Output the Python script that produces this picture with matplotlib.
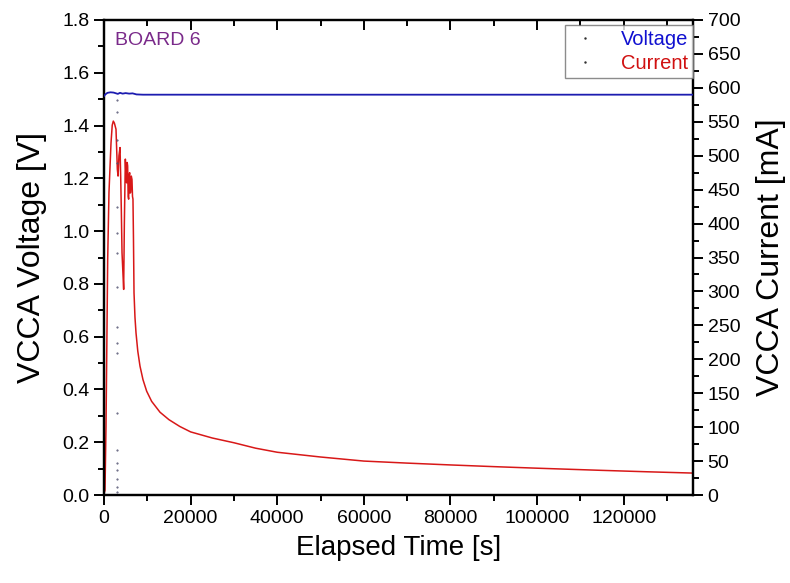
import matplotlib
matplotlib.use('Agg')
from matplotlib import pyplot as plt
from matplotlib.lines import Line2D
from matplotlib.ticker import MultipleLocator, FormatStrFormatter

plt.rcParams['font.family'] = ['Liberation Sans', 'DejaVu Sans']

# voltage trace (s, V)
volt_t = [0, 300, 800, 1500, 2200, 2800, 3200, 3700, 4300, 5000, 5800, 6600, 7500, 9000, 20000, 60000, 100000, 136000]
volt_v = [1.512, 1.518, 1.524, 1.526, 1.525, 1.522, 1.520, 1.524, 1.521, 1.523, 1.521, 1.522, 1.518, 1.517, 1.517, 1.517, 1.517, 1.517]

# stray voltage readings at ~3070 s
drop_t = 3070
drop_v = [1.497, 1.453, 1.345, 1.258, 1.093, 0.993, 0.917, 0.79, 0.638, 0.576, 0.539,
          0.311, 0.171, 0.12, 0.095, 0.06, 0.03, 0.01]

# current trace (s, mA)
curr_t = [0, 230, 460, 620, 850, 1150, 1620, 1900, 2150, 2400, 2770, 2950, 3080, 3250, 3450, 3700,
          3850, 4000, 4160, 4350, 4540, 4700, 4930, 5080, 5230, 5350, 5460, 5580, 5690, 5800,
          5920, 6030, 6150, 6300, 6460, 6580, 6690, 6800, 6930, 7150, 7390, 7800, 8310, 9000,
          9850, 11000, 12930, 15000, 17500, 20000, 25000, 30000, 35000, 40000, 50000, 60000,
          70000, 80000, 90000, 100000, 115000, 125000, 136000]
curr_i = [2, 7, 100, 199, 347, 446, 519, 545, 551, 548, 539, 505, 480, 470, 500, 512,
          470, 420, 357, 330, 303, 400, 495, 470, 460, 490, 485, 440, 436, 470,
          475, 445, 446, 470, 465, 440, 436, 380, 298, 262, 239, 212, 190, 170,
          153, 138, 122, 111, 101, 93, 84, 77, 69, 63, 56, 50,
          47, 44.3, 41.8, 39.5, 36.3, 34.3, 32.3]

fig = plt.figure(figsize=(7.9, 5.83), dpi=100)
ax1 = fig.add_axes([104/790, 1-495/583, (693-104)/790, (495-20)/583])
ax2 = ax1.twinx()

ax1.plot(volt_t, volt_v, color='#1c1cb0', lw=1.3, zorder=3)
ax1.plot([drop_t]*len(drop_v), drop_v, ls='none', marker='.', ms=1.0, color='#505070', zorder=3)
ax2.plot(curr_t, curr_i, color='#d81818', lw=1.1)

ax1.set_zorder(ax2.get_zorder() + 1)
ax1.patch.set_visible(False)

ax1.set_xlim(0, 136000)
ax1.set_ylim(0, 1.8)
ax2.set_ylim(0, 700)

ax1.xaxis.set_major_locator(MultipleLocator(20000))
ax1.xaxis.set_minor_locator(MultipleLocator(10000))
ax1.yaxis.set_major_locator(MultipleLocator(0.2))
ax1.yaxis.set_minor_locator(MultipleLocator(0.1))
ax2.yaxis.set_major_locator(MultipleLocator(50))
ax2.yaxis.set_minor_locator(MultipleLocator(25))
ax1.yaxis.set_major_formatter(FormatStrFormatter('%.1f'))

ax1.tick_params(axis='both', which='both', labelsize=14, width=1.4, direction='out')
ax1.tick_params(which='major', length=7)
ax1.tick_params(which='minor', length=4)
ax1.tick_params(axis='x', top=True, which='both')
for t in ax1.xaxis.get_major_ticks() + ax1.xaxis.get_minor_ticks():
    t.tick2line.set_marker(3)  # top ticks point inward
ax2.tick_params(axis='y', which='both', labelsize=14, width=1.4, direction='out')
ax2.tick_params(which='major', length=7)
ax2.tick_params(which='minor', length=4)

for ax in (ax1, ax2):
    for s in ax.spines.values():
        s.set_linewidth(1.6)

ax1.set_xlabel('Elapsed Time [s]', fontsize=20, labelpad=6)
ax1.set_ylabel('VCCA Voltage [V]', fontsize=23, labelpad=11)
ax2.set_ylabel('VCCA Current [mA]', fontsize=23, labelpad=11)

ax1.text(0.018, 0.975, 'BOARD 6', transform=ax1.transAxes, fontsize=14,
         color='#7a2a8a', va='top', ha='left')

handles = [Line2D([], [], ls='none', marker='.', ms=1.5, color='#303030'),
           Line2D([], [], ls='none', marker='.', ms=1.5, color='#303030')]
leg = ax1.legend(handles, ['Voltage', 'Current'], loc='upper right',
                 bbox_to_anchor=(1.0, 0.99), fontsize=14.5, frameon=True,
                 fancybox=False, borderaxespad=0, handlelength=1.5,
                 handletextpad=1.0, borderpad=0.25, labelspacing=0.25,
                 labelcolor=['#1010d0', '#d01010'])
leg.get_frame().set_edgecolor('#707070')
leg.get_frame().set_linewidth(1.0)

fig.savefig('out.png', dpi=100)
